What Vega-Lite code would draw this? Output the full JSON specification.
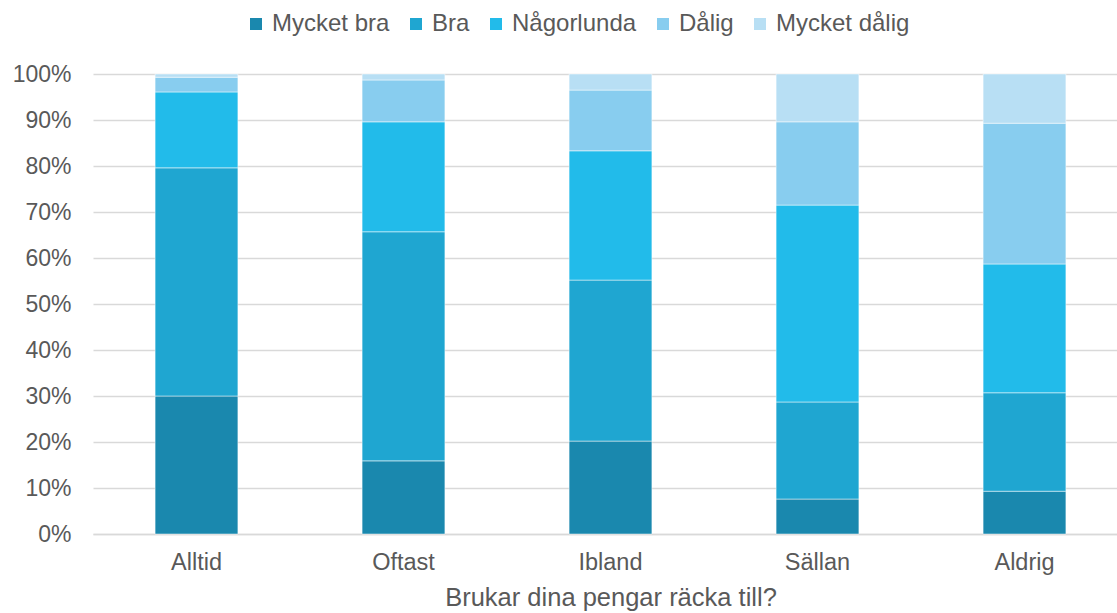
{
  "$schema": "https://vega.github.io/schema/vega-lite/v6.json",
  "autosize": {"type": "none"},
  "padding": {"left": 93, "top": 74, "right": 0, "bottom": 79},
  "width": 1035,
  "height": 460,
  "background": "white",
  "config": {
    "font": "Liberation Sans",
    "view": {"stroke": null},
    "axis": {"labelFont": "Liberation Sans", "titleFont": "Liberation Sans", "labelColor": "#595959", "titleColor": "#595959"}
  },
  "data": {
    "values": [
      {"kat": "Alltid", "svar": "Mycket bra", "o": 1, "v": 30.0},
      {"kat": "Alltid", "svar": "Bra", "o": 2, "v": 49.6},
      {"kat": "Alltid", "svar": "Någorlunda", "o": 3, "v": 16.5},
      {"kat": "Alltid", "svar": "Dålig", "o": 4, "v": 3.2},
      {"kat": "Alltid", "svar": "Mycket dålig", "o": 5, "v": 0.7},
      {"kat": "Oftast", "svar": "Mycket bra", "o": 1, "v": 15.9},
      {"kat": "Oftast", "svar": "Bra", "o": 2, "v": 49.8},
      {"kat": "Oftast", "svar": "Någorlunda", "o": 3, "v": 23.9},
      {"kat": "Oftast", "svar": "Dålig", "o": 4, "v": 9.1},
      {"kat": "Oftast", "svar": "Mycket dålig", "o": 5, "v": 1.3},
      {"kat": "Ibland", "svar": "Mycket bra", "o": 1, "v": 20.2},
      {"kat": "Ibland", "svar": "Bra", "o": 2, "v": 35.0},
      {"kat": "Ibland", "svar": "Någorlunda", "o": 3, "v": 28.1},
      {"kat": "Ibland", "svar": "Dålig", "o": 4, "v": 13.2},
      {"kat": "Ibland", "svar": "Mycket dålig", "o": 5, "v": 3.5},
      {"kat": "Sällan", "svar": "Mycket bra", "o": 1, "v": 7.6},
      {"kat": "Sällan", "svar": "Bra", "o": 2, "v": 21.1},
      {"kat": "Sällan", "svar": "Någorlunda", "o": 3, "v": 42.8},
      {"kat": "Sällan", "svar": "Dålig", "o": 4, "v": 18.1},
      {"kat": "Sällan", "svar": "Mycket dålig", "o": 5, "v": 10.4},
      {"kat": "Aldrig", "svar": "Mycket bra", "o": 1, "v": 9.3},
      {"kat": "Aldrig", "svar": "Bra", "o": 2, "v": 21.4},
      {"kat": "Aldrig", "svar": "Någorlunda", "o": 3, "v": 28.0},
      {"kat": "Aldrig", "svar": "Dålig", "o": 4, "v": 30.6},
      {"kat": "Aldrig", "svar": "Mycket dålig", "o": 5, "v": 10.7}
    ]
  },
  "mark": {"type": "bar", "stroke": "white", "strokeWidth": 0.8, "strokeOpacity": 0.6},
  "encoding": {
    "x": {
      "field": "kat", "type": "nominal",
      "sort": ["Alltid", "Oftast", "Ibland", "Sällan", "Aldrig"],
      "scale": {"paddingInner": 0.6, "paddingOuter": 0.3},
      "axis": {"title": "Brukar dina pengar räcka till?", "labelAngle": 0, "labelFontSize": 23.5, "titleFontSize": 25.5, "titleFontWeight": "normal", "labelPadding": 16, "titlePadding": 12, "ticks": false, "domainColor": "#d9d9d9", "domainWidth": 1.5}
    },
    "y": {
      "field": "v", "type": "quantitative", "stack": "zero",
      "scale": {"domain": [0, 100], "nice": false},
      "axis": {"title": null, "values": [0,10,20,30,40,50,60,70,80,90,100], "labelExpr": "datum.value + '%'", "labelFontSize": 23, "labelPadding": 22, "ticks": false, "domain": false, "gridColor": "#d9d9d9", "gridWidth": 1.5}
    },
    "color": {
      "field": "svar", "type": "nominal",
      "sort": ["Mycket bra", "Bra", "Någorlunda", "Dålig", "Mycket dålig"],
      "scale": {"domain": ["Mycket bra", "Bra", "Någorlunda", "Dålig", "Mycket dålig"], "range": ["#1a88ae", "#1fa6d1", "#22bbea", "#88cdef", "#b8dff4"]},
      "legend": {"title": null, "orient": "none", "legendX": 151, "legendY": -62, "direction": "horizontal", "symbolType": "square", "symbolSize": 144, "symbolStrokeWidth": 0, "labelFontSize": 24, "labelColor": "#595959", "labelFont": "Liberation Sans", "columnPadding": 14, "symbolOffset": 0, "labelOffset": 4}
    },
    "order": {"field": "o", "type": "quantitative"}
  }
}
